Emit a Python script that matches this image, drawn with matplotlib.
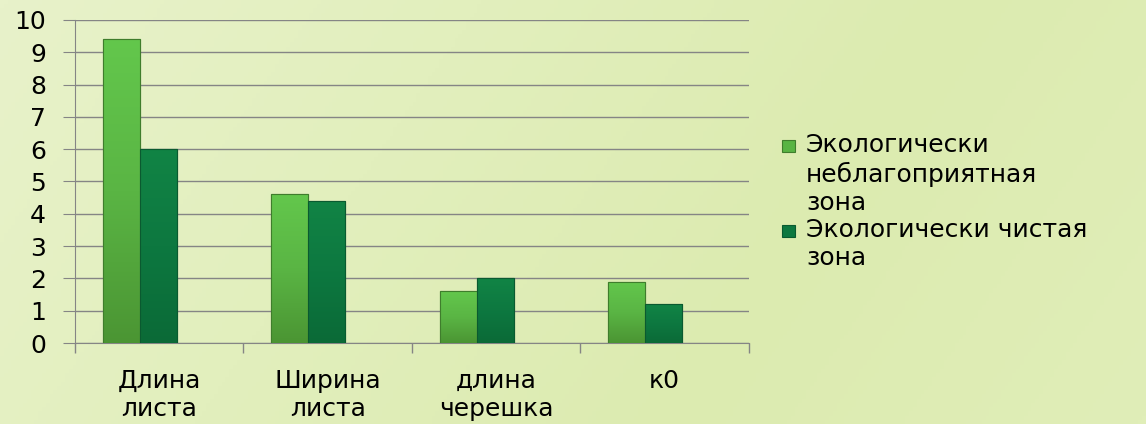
import numpy as np
import matplotlib
matplotlib.use("Agg")
import matplotlib.pyplot as plt
from matplotlib.colors import LinearSegmentedColormap
from matplotlib.patches import Rectangle

categories = ["Длина\nлиста", "Ширина\nлиста", "длина\nчерешка", "к0"]
bad_zone = [9.4, 4.6, 1.6, 1.9]
clean_zone = [6.0, 4.4, 2.0, 1.2]
series_names = ["Экологически\nнеблагоприятная\nзона", "Экологически чистая\nзона"]

plt.rcParams["font.family"] = ["DejaVu Sans"]

W, H = 1146, 424
fig = plt.figure(figsize=(W / 100, H / 100), dpi=100)

# background gradient
bg = fig.add_axes([0, 0, 1, 1], zorder=-10)
bg_cmap = LinearSegmentedColormap.from_list("bg", ["#e8f2ca", "#e2efbd", "#dcebb0", "#e0eeb8"])
gx = np.linspace(0, 1, 300)
gy = np.linspace(0, 1, 100)
GX, GY = np.meshgrid(gx, gy)
bg.imshow(0.8 * GX + 0.2 * GY, cmap=bg_cmap, aspect="auto", extent=[0, 1, 0, 1])
bg.axis("off")

ax = fig.add_axes([0.0654, 0.191, 0.588, 0.762])
ax.patch.set_alpha(0)

x = np.arange(len(categories))
w = 0.22
shift = -0.115

light = "#58b443"
dark = "#0d7840"
light_cmap = LinearSegmentedColormap.from_list("light", ["#4b9533", "#5ab544", "#63c74c"])
dark_cmap = LinearSegmentedColormap.from_list("dark", ["#0b6a37", "#0d7840", "#118445"])

bars1 = ax.bar(x + shift - w / 2, bad_zone, w, color=light, edgecolor="#3f7d2c",
               linewidth=0.8, zorder=3)
bars2 = ax.bar(x + shift + w / 2, clean_zone, w, color=dark, edgecolor="#0a5a30",
               linewidth=0.8, zorder=3)

# gradient fill inside bars
grad = np.linspace(0, 1, 256).reshape(-1, 1)
for bars, cm in [(bars1, light_cmap), (bars2, dark_cmap)]:
    for b in bars:
        x0, y0 = b.get_x(), b.get_y()
        bw, bh = b.get_width(), b.get_height()
        im = ax.imshow(grad, cmap=cm, origin="lower", aspect="auto",
                       extent=[x0, x0 + bw, y0, y0 + bh], zorder=3.5)
        im.set_clip_path(b)
        ax.bar(x0 + bw / 2, bh, bw, fill=False, edgecolor=b.get_edgecolor(),
               linewidth=0.8, zorder=4)

ax.set_xlim(-0.5, len(categories) - 0.5)
ax.set_ylim(0, 10)
ax.set_yticks(range(0, 11))
ax.yaxis.grid(True, color="#858585", linewidth=1.0, zorder=0)
ax.set_axisbelow(True)

ax.set_xticks(x)
ax.set_xticklabels(categories, fontsize=18, linespacing=1.2)
ax.set_xticks(np.arange(-0.5, len(categories)), minor=True)
ax.tick_params(axis="x", which="major", length=0, pad=19)
ax.tick_params(axis="x", which="minor", length=7, color="#858585", width=1)
ax.tick_params(axis="y", length=9, color="#858585", labelsize=18, pad=12)

for side in ["top", "right"]:
    ax.spines[side].set_visible(False)
ax.spines["left"].set_color("#858585")
ax.spines["bottom"].set_color("#858585")

# legend: marker aligned with the first line of each entry
legend_rows = [146, 231]
for name, col, edge, row in zip(series_names, [light, dark], ["#3f7d2c", "#0a5a30"], legend_rows):
    fig.patches.append(Rectangle((782 / W, 1 - (row + 6) / H), 13 / W, 12 / H,
                                 transform=fig.transFigure, facecolor=col,
                                 edgecolor=edge, linewidth=0.8))
    fig.text(806 / W, 1 - (row - 13) / H, name, fontsize=18, va="top", ha="left",
             linespacing=1.22)

fig.savefig("out.png", dpi=100)
